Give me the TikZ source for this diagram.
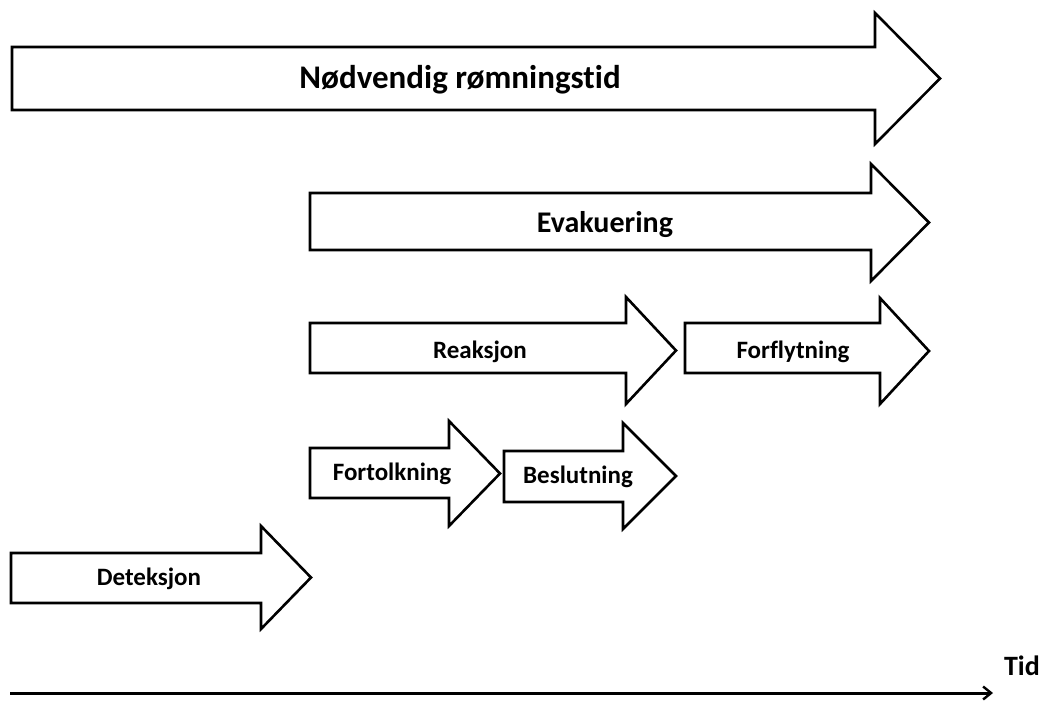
\documentclass[tikz,border=0pt]{standalone}
\usepackage{fontspec}
\setmainfont{Carlito}[Ligatures=NoCommon]
\usetikzlibrary{arrows.meta}
\tikzset{
  blockarrow/.style={draw=black, line width=2.6pt, line join=miter, fill=white},
  lbl/.style={font=\bfseries\fontsize{25}{28}\selectfont, anchor=base, inner sep=0pt},
  biglbl/.style={font=\bfseries\fontsize{33}{36}\selectfont, anchor=base, inner sep=0pt},
  axis/.style={line width=3pt, -{Straight Barb[length=8pt,width=13pt,line width=2.4pt]}}
}
% #1 left, #2 head base, #3 tip x, #4 body top, #5 body bottom, #6 head top, #7 head bottom
\newcommand{\blockarr}[7]{%
  \draw[blockarrow] (#1pt,-#4pt) -- (#2pt,-#4pt) -- (#2pt,-#6pt) -- (#3pt,{-(#6+#7)/2*1pt}) --
    (#2pt,-#7pt) -- (#2pt,-#5pt) -- (#1pt,-#5pt) -- cycle;}
\begin{document}
\begin{tikzpicture}
\useasboundingbox (0,0) rectangle (1045pt,-702pt);
% arrows
\blockarr{12}{875}{940}{47}{110}{13}{144}
\blockarr{310}{871}{929}{193}{250}{164}{281}
\blockarr{310}{626}{676}{323}{373}{297}{404}
\blockarr{685}{880}{929}{323}{373}{298}{404}
\blockarr{310}{449}{500}{448}{498}{421}{526}
\blockarr{504}{623}{676}{451}{502}{423}{529}
\blockarr{11}{261}{311}{553}{603}{526}{629}
% labels
\node[biglbl] (nod) at (460pt,-88pt) {Nødvendig rømningstid};
\node[biglbl,font=\bfseries\fontsize{30}{33}\selectfont] (eva) at (605pt,-232pt) {Evakuering};
\node[lbl] (rea) at (480pt,-358pt) {Reaksjon};
\node[lbl] (forf) at (793pt,-358pt) {Forflytning};
\node[lbl] (fort) at (392pt,-480pt) {Fortolkning};
\node[lbl] (bes) at (578pt,-483pt) {Beslutning};
\node[lbl] (det) at (149pt,-585pt) {Deteksjon};
\node[lbl,font=\bfseries\fontsize{28}{30}\selectfont] (tid) at (1022pt,-675pt) {Tid};
% time axis
\coordinate (t0) at (10pt,-693pt);
\coordinate (t1) at (993pt,-693pt);
\draw[axis] (t0) -- (t1);
\end{tikzpicture}
\end{document}
